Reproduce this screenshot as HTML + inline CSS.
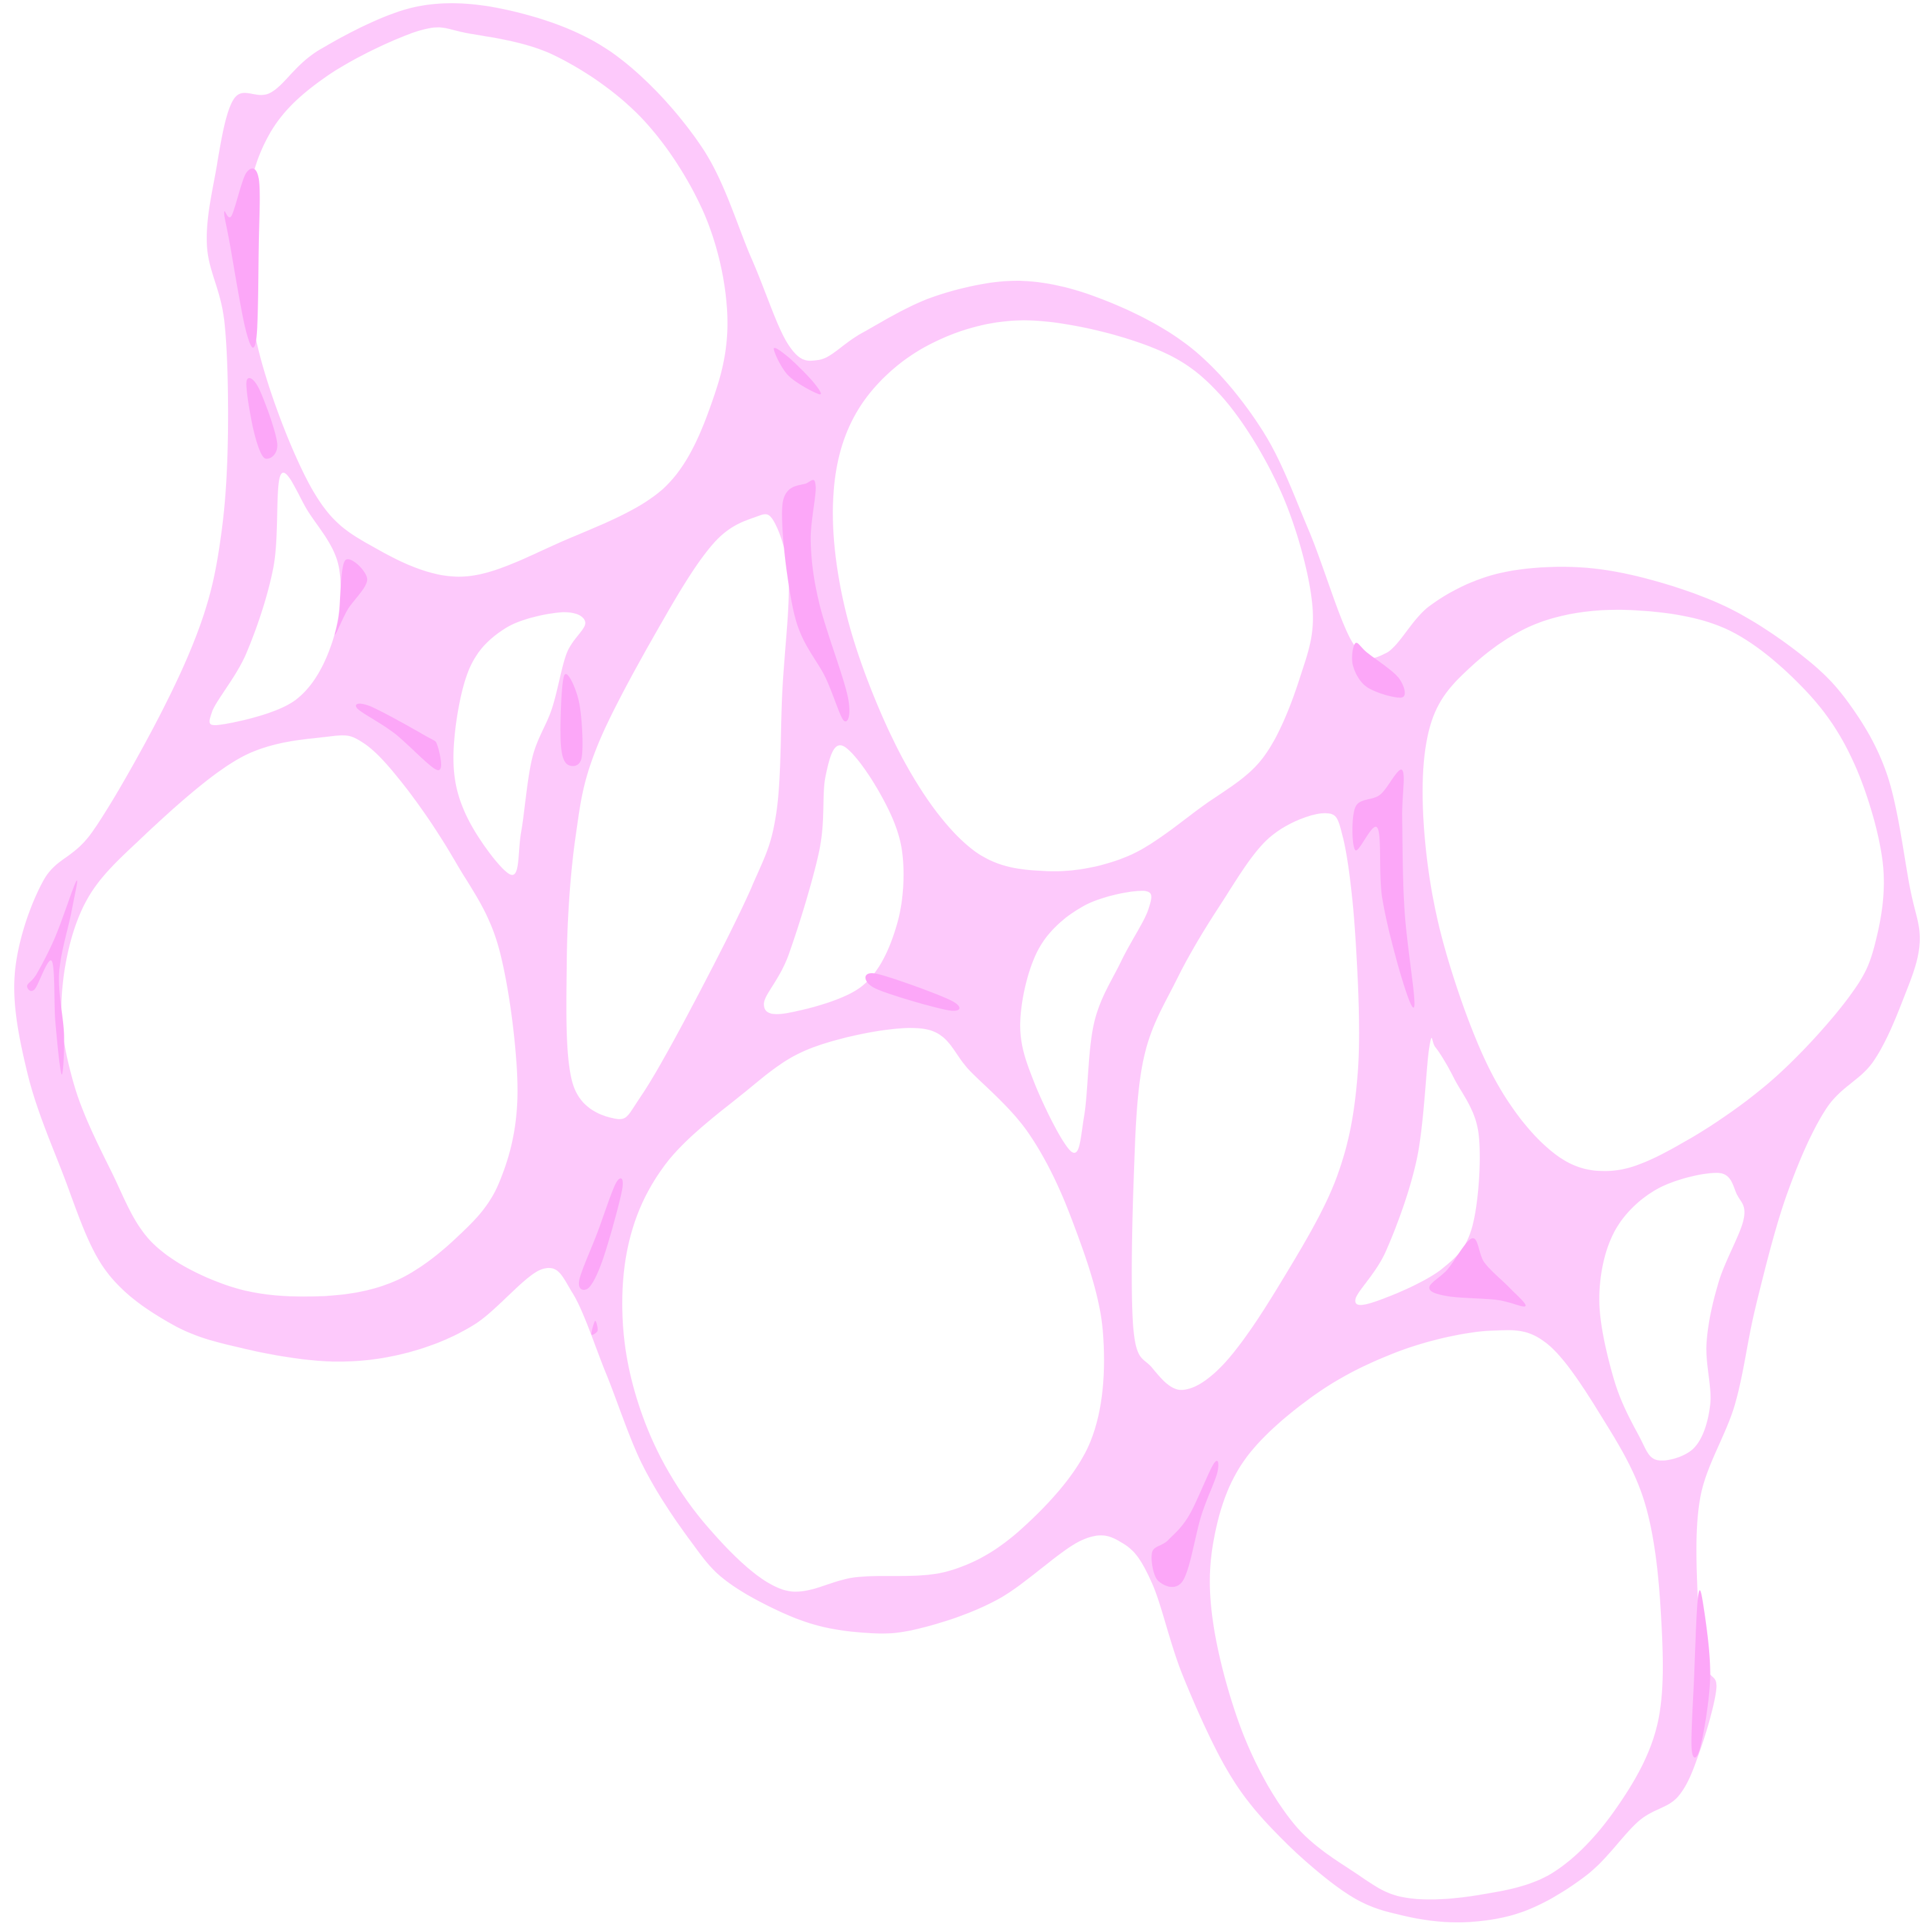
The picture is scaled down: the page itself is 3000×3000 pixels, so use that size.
<!DOCTYPE html>
<html><head><meta charset="utf-8">
<style>html,body{margin:0;padding:0;background:#fff}svg{display:block}</style>
</head><body>
<svg id="art" width="3000" height="3000" viewBox="0 0 3000 3000" xmlns="http://www.w3.org/2000/svg">
<path id="tissue" fill="#fdc9fb" fill-rule="evenodd"/>
<g id="spots" fill="#fca7f8"></g>
</svg>
<script>
const S = 3000/1568;
const outer = [[340,5],[260,40],[220,75],[190,80],[175,140],[168,200],[182,260],[185,350],[180,430],[165,500],[130,580],[75,675],[35,715],[12,790],[22,870],[50,950],[85,1030],[140,1075],[200,1095],[270,1105],[330,1098],[385,1075],[440,1030],[465,1050],[492,1115],[522,1190],[560,1250],[592,1285],[650,1315],[700,1325],[745,1322],[810,1298],[878,1250],[912,1253],[935,1285],[960,1360],[998,1440],[1040,1492],[1095,1538],[1140,1555],[1190,1560],[1240,1550],[1290,1520],[1330,1478],[1362,1458],[1380,1420],[1393,1370],[1385,1352],[1378,1300],[1380,1215],[1408,1140],[1425,1060],[1450,970],[1482,900],[1520,862],[1545,810],[1558,765],[1550,720],[1532,630],[1500,570],[1460,530],[1400,492],[1330,468],[1270,460],[1210,467],[1160,492],[1125,530],[1098,522],[1062,430],[1025,350],[970,285],[900,245],[830,228],[760,240],[700,270],[665,292],[640,280],[610,210],[570,120],[500,45],[420,10]];
const holes = [
[[340,25],[265,62],[218,110],[200,180],[210,285],[255,400],[305,445],[375,468],[455,440],[540,395],[580,320],[590,250],[570,170],[520,95],[450,45],[380,27]],
[[228,385],[222,460],[200,530],[172,578],[180,588],[240,568],[270,520],[275,460],[250,415]],
[[455,497],[410,510],[380,545],[368,615],[380,665],[415,710],[423,675],[432,615],[448,575],[460,530],[475,505]],
[[612,420],[580,440],[540,500],[485,605],[467,680],[460,780],[465,880],[500,908],[520,890],[560,820],[610,720],[630,660],[635,560],[640,470],[628,423]],
[[830,260],[750,282],[695,335],[676,410],[690,510],[735,620],[790,690],[850,707],[915,695],[975,655],[1025,615],[1055,550],[1065,490],[1040,400],[990,320],[930,280]],
[[683,605],[670,630],[665,690],[640,775],[620,815],[640,822],[700,800],[728,750],[732,690],[712,640]],
[[265,598],[195,615],[115,680],[68,735],[50,810],[60,880],[90,950],[125,1010],[190,1045],[260,1052],[320,1040],[370,1005],[405,960],[420,885],[405,770],[370,700],[330,640],[295,603]],
[[928,723],[880,735],[843,770],[828,830],[840,880],[870,935],[880,905],[888,830],[910,780],[932,738]],
[[750,835],[660,850],[600,890],[540,945],[510,1010],[507,1090],[530,1170],[575,1240],[635,1290],[695,1280],[770,1275],[830,1240],[885,1170],[895,1080],[870,990],[835,920],[788,870]],
[[1075,660],[1030,680],[990,735],[955,795],[928,860],[920,960],[920,1080],[935,1110],[960,1128],[995,1105],[1040,1040],[1085,955],[1102,870],[1100,760],[1090,680]],
[[1320,495],[1250,505],[1195,540],[1162,585],[1155,660],[1170,760],[1210,870],[1260,935],[1310,950],[1370,925],[1440,875],[1500,810],[1522,765],[1528,700],[1505,620],[1465,560],[1400,510]],
[[1160,850],[1150,940],[1125,1015],[1100,1055],[1120,1055],[1170,1030],[1195,995],[1200,920],[1180,875],[1165,850]],
[[1395,952],[1345,965],[1310,1000],[1298,1055],[1310,1120],[1330,1165],[1345,1185],[1375,1175],[1388,1140],[1385,1090],[1395,1040],[1415,990],[1410,970]],
[[1210,1080],[1140,1095],[1070,1130],[1010,1185],[985,1250],[985,1320],[1010,1410],[1050,1480],[1100,1520],[1140,1540],[1200,1538],[1260,1520],[1310,1470],[1345,1400],[1348,1310],[1335,1220],[1300,1150],[1255,1090]]
];
const spots = [
[[200,140],[188,175],[182,172],[186,195],[200,270],[208,275],[210,200],[210,145]],
[[200,310],[206,350],[215,372],[225,360],[210,315]],
[[280,455],[275,500],[272,515],[282,495],[298,470]],
[[290,575],[320,595],[355,625],[355,605],[345,597],[300,573]],
[[458,548],[455,600],[460,620],[472,615],[470,570]],
[[628,283],[640,305],[665,320],[660,310],[640,290]],
[[655,392],[635,410],[645,500],[670,550],[685,585],[688,565],[665,490],[658,440],[662,395]],
[[710,790],[710,802],[770,820],[772,812]],
[[1100,522],[1098,540],[1110,558],[1138,566],[1135,550],[1110,530]],
[[1138,625],[1120,645],[1100,655],[1100,690],[1118,672],[1122,730],[1138,795],[1148,815],[1140,740],[1138,665]],
[[1195,1005],[1175,1030],[1160,1045],[1175,1052],[1215,1055],[1238,1060],[1225,1045],[1205,1025]],
[[500,960],[485,1000],[470,1040],[478,1045],[490,1020],[505,965]],
[[483,1072],[480,1083],[485,1080]],
[[62,715],[45,760],[30,790],[22,800],[28,803],[42,780],[45,830],[50,872],[52,840],[48,790],[58,740]],
[[985,1188],[965,1230],[948,1250],[935,1260],[940,1283],[960,1283],[975,1230],[988,1195]],
[[1378,1297],[1375,1360],[1373,1420],[1380,1418],[1388,1360],[1382,1300]]
];
function smooth(pts){
  const p = pts.map(q=>[q[0]*S,q[1]*S]); const n=p.length;
  let d=`M${p[0][0].toFixed(1)},${p[0][1].toFixed(1)}`;
  for(let i=0;i<n;i++){
    const p0=p[(i-1+n)%n],p1=p[i],p2=p[(i+1)%n],p3=p[(i+2)%n];
    const c1=[p1[0]+(p2[0]-p0[0])/6,p1[1]+(p2[1]-p0[1])/6];
    const c2=[p2[0]-(p3[0]-p1[0])/6,p2[1]-(p3[1]-p1[1])/6];
    d+=`C${c1[0].toFixed(1)},${c1[1].toFixed(1)} ${c2[0].toFixed(1)},${c2[1].toFixed(1)} ${p2[0].toFixed(1)},${p2[1].toFixed(1)}`;
  }
  return d+'Z';
}
let d = smooth(outer);
holes.forEach(h=>{ d += smooth(h); });
document.getElementById('tissue').setAttribute('d', d);
const g = document.getElementById('spots');
spots.forEach(s=>{
  const el = document.createElementNS('http://www.w3.org/2000/svg','path');
  el.setAttribute('d', smooth(s));
  
  
  g.appendChild(el);
});
</script>
</body></html>
